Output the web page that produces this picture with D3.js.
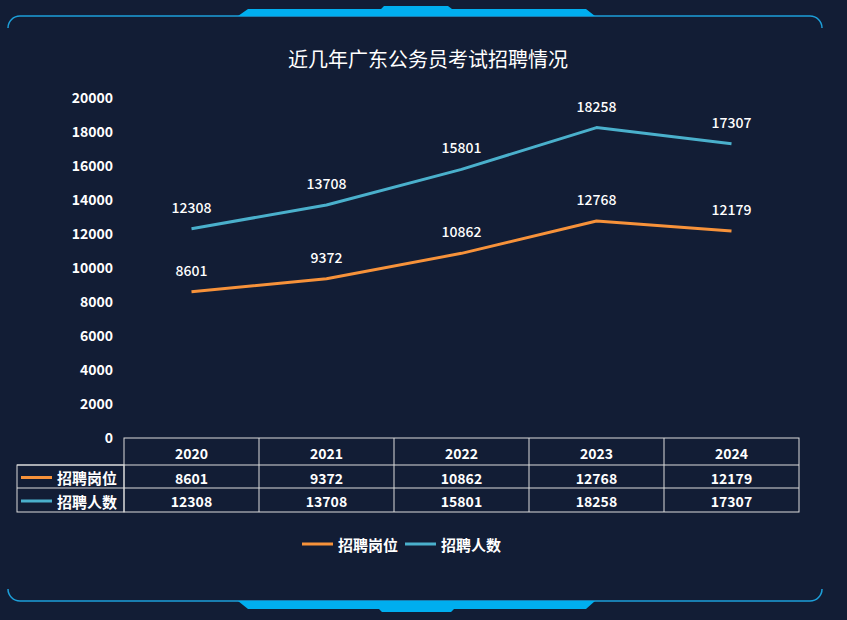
<!DOCTYPE html>
<html><head><meta charset="utf-8">
<script src="https://cdn.jsdelivr.net/npm/d3@7"></script>
<style>
html,body{margin:0;padding:0;background:#121d35;}
svg{display:block;font-family:"Noto Sans CJK SC","Microsoft YaHei",sans-serif;}
</style></head>
<body><svg id="c" width="847" height="620"></svg>
<script>
const title = "近几年广东公务员考试招聘情况";
const years = ["2020","2021","2022","2023","2024"];
const seriesNames = ["招聘岗位","招聘人数"];
const positions = [8601, 9372, 10862, 12768, 12179];
const people = [12308, 13708, 15801, 18258, 17307];
const yTicks = [0,2000,4000,6000,8000,10000,12000,14000,16000,18000,20000];
const colors = ["#f7923a","#4ab0cc"];
const series = [positions, people];

const svg = d3.select("#c");
svg.append("rect").attr("width",847).attr("height",620).attr("fill","#121d35");

// frame decoration
const fc = "#1d9fd9", fill = "#00aeef";
const g = svg.append("g");
g.append("path").attr("d","M8,28 A12,12 0 0 1 20,16 L810,16 A12,12 0 0 1 822,28")
  .attr("fill","none").attr("stroke",fc).attr("stroke-width",1.5);
g.append("path").attr("d","M8,589 A12,12 0 0 0 20,601 L810,601 A12,12 0 0 0 822,589")
  .attr("fill","none").attr("stroke",fc).attr("stroke-width",1.5);
g.append("path").attr("d","M238,16 L248,9 L381,9 L384,6 L448,6 L452,9 L586,9 L595,16 Z").attr("fill",fill);
g.append("path").attr("d","M238,601 L595,601 L586,609 L454,609 L451,612 L382,612 L379,609 L248,609 Z").attr("fill",fill);

svg.append("text").attr("x",428).attr("y",67).attr("text-anchor","middle")
  .attr("fill","#fff").attr("font-size",20).text(title);

const x0 = 124, x1 = 799;
const x = d3.scaleBand().domain(years).range([x0,x1]);
const y = d3.scaleLinear().domain([0,20000]).range([438,98]);

// y axis
const ya = svg.append("g").attr("transform","translate(113,0)")
  .call(d3.axisLeft(y).tickValues(yTicks).tickSize(0).tickPadding(0).tickFormat(d3.format("d")));
ya.select(".domain").remove();
ya.selectAll("text").attr("fill","#fff").attr("font-size",14).attr("font-weight","bold")
  .attr("font-family","'Noto Sans CJK SC',sans-serif");

// lines
const line = d3.line().x((d,i)=>x(years[i])+x.bandwidth()/2).y(d=>y(d));
series.forEach((s,k)=>{
  svg.append("path").datum(s).attr("d",line).attr("fill","none")
    .attr("stroke",colors[k]).attr("stroke-width",3).attr("stroke-linejoin","round");
  svg.selectAll(null).data(s).enter().append("text")
    .attr("x",(d,i)=>x(years[i])+x.bandwidth()/2).attr("y",d=>y(d)-16)
    .attr("text-anchor","middle").attr("fill","#fff").attr("font-size",14).attr("font-weight",500)
    .text(d=>d);
});

// data table
const tc = "#dcdcdc";
const rowY = [438,465,488,512];
const tg = svg.append("g");
tg.append("rect").attr("x",x0).attr("y",rowY[0]).attr("width",x1-x0).attr("height",rowY[3]-rowY[0])
  .attr("fill","none").attr("stroke",tc).attr("stroke-width",1);
tg.append("rect").attr("x",17).attr("y",rowY[1]).attr("width",x0-17).attr("height",rowY[3]-rowY[1])
  .attr("fill","none").attr("stroke",tc).attr("stroke-width",1);
[1,2].forEach(r=>tg.append("line").attr("x1",17).attr("x2",x1).attr("y1",rowY[r]).attr("y2",rowY[r]).attr("stroke",tc));
years.slice(1).forEach(yr=>tg.append("line").attr("x1",x(yr)).attr("x2",x(yr)).attr("y1",rowY[0]).attr("y2",rowY[3]).attr("stroke",tc));
const cellText = (tx,ty,t,anchor="middle",size=14)=>tg.append("text").attr("x",tx).attr("y",ty)
  .attr("text-anchor",anchor).attr("dominant-baseline","central").attr("fill","#fff")
  .attr("font-size",size).attr("font-weight","bold").text(t);
years.forEach(yr=>cellText(x(yr)+x.bandwidth()/2,(rowY[0]+rowY[1])/2+1,yr));
series.forEach((s,k)=>{
  const cy=(rowY[k+1]+rowY[k+2])/2+1;
  tg.append("line").attr("x1",21).attr("x2",52).attr("y1",cy).attr("y2",cy).attr("stroke",colors[k]).attr("stroke-width",3);
  cellText(57,cy,seriesNames[k],"start",15);
  s.forEach((v,i)=>cellText(x(years[i])+x.bandwidth()/2,cy,v));
});

// legend
const lg = svg.append("g");
const lx = [302,405];
seriesNames.forEach((n,k)=>{
  lg.append("line").attr("x1",lx[k]).attr("x2",lx[k]+31).attr("y1",544).attr("y2",544).attr("stroke",colors[k]).attr("stroke-width",3);
  lg.append("text").attr("x",lx[k]+36).attr("y",544).attr("dominant-baseline","central")
    .attr("fill","#fff").attr("font-size",15).attr("font-weight","bold").text(n);
});
</script></body></html>
